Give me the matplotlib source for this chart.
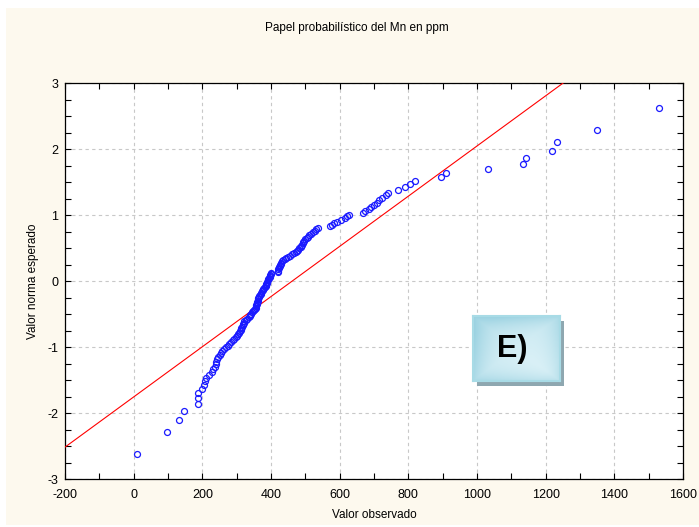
import numpy as np
import matplotlib
matplotlib.use("Agg")
import matplotlib.pyplot as plt
import matplotlib.ticker as ticker
from matplotlib.patches import Rectangle
from statistics import NormalDist

plt.rcParams['font.family'] = ['Liberation Sans', 'DejaVu Sans']
plt.rcParams['axes.unicode_minus'] = False

# Mn concentrations (ppm), sorted
mn_ppm = [
    9, 98, 132, 146, 187, 187, 188, 200, 204, 208,
    212, 220, 228, 232, 236, 239, 241, 243, 247, 250,
    253, 256, 263, 268, 274, 279, 284, 289, 293, 297,
    301, 305, 308, 310, 312, 314, 315, 317, 319, 321,
    322, 326, 331, 335, 338, 340, 342, 344, 347, 350,
    353, 355, 356, 357, 358, 359, 360, 361, 362, 363,
    364, 366, 368, 370, 372, 374, 376, 378, 380, 382,
    384, 385, 386, 388, 389, 390, 392, 394, 396, 397,
    398, 399, 400, 419, 420, 421, 422, 424, 425, 426,
    428, 430, 433, 436, 440, 444, 449, 454, 461, 468,
    473, 477, 480, 483, 486, 488, 490, 492, 494, 496,
    500, 504, 508, 511, 517, 523, 528, 532, 537, 572,
    577, 583, 593, 605, 615, 622, 628, 668, 675, 685,
    690, 700, 708, 716, 722, 735, 742, 771, 790, 805,
    819, 894, 909, 1031, 1135, 1142, 1217, 1232, 1350, 1530,
]

# reference normal line: z = (x - mean) / sd
line_mean = 462.0
line_sd = 263.0

# expected normal values from ranks, (j - 1/3) / (n + 1/3)
n = len(mn_ppm)
nd = NormalDist()
z_exp = [nd.inv_cdf((j - 1.0 / 3) / (n + 1.0 / 3)) for j in range(1, n + 1)]

fig = plt.figure(figsize=(6.99, 5.27), dpi=100)
fig.patch.set_facecolor('white')
# cream panel behind everything
fig.patches.append(Rectangle((6 / 699, 2 / 527), 693 / 699, 517 / 527,
                             transform=fig.transFigure, facecolor='#fdf9ee',
                             edgecolor='none', zorder=-10))

ax = fig.add_axes([65 / 699, 48 / 527, 618 / 699, 396 / 527])
ax.set_facecolor('white')

xl = np.array([-200, 1600])
ax.plot(xl, (xl - line_mean) / line_sd, color='#ff0000', lw=0.8, zorder=3)
ax.plot(mn_ppm, z_exp, 'o', mfc='none', mec='#1a1aff', ms=4.3, mew=0.9, zorder=4)

ax.set_xlim(-200, 1600)
ax.set_ylim(-3, 3)
ax.xaxis.set_major_locator(ticker.MultipleLocator(200))
ax.xaxis.set_minor_locator(ticker.MultipleLocator(100))
ax.yaxis.set_major_locator(ticker.MultipleLocator(1))
ax.yaxis.set_minor_locator(ticker.MultipleLocator(0.25))
ax.tick_params(which='both', direction='in', top=True, right=True,
               length=4, width=0.8, color='black')
ax.tick_params(axis='x', which='major', labelsize=9, pad=7)
ax.tick_params(axis='y', which='major', labelsize=9, pad=5)
ax.grid(True, which='major', color='#c8c8c8', linestyle=(0, (3, 3)), lw=0.8)
ax.set_axisbelow(True)
for s in ax.spines.values():
    s.set_linewidth(0.9)
    s.set_color('black')

ax.set_xlabel('Valor observado', fontsize=8.5, labelpad=6)
ax.set_ylabel('Valor norma esperado', fontsize=8.5, labelpad=6)
fig.text(357 / 699, 1 - 28 / 527, 'Papel probabilístico del Mn en ppm',
         ha='center', va='center', fontsize=8.5)

# "E)" panel tag with drop shadow and soft gradient
bx, by, bw, bh = 473, 316, 87, 65
fig.patches.append(Rectangle(((bx + 4) / 699, 1 - (by + bh + 5) / 527), bw / 699, bh / 527,
                             transform=fig.transFigure, facecolor='#8ea7b0',
                             edgecolor='none', zorder=5))
tag = fig.add_axes([bx / 699, 1 - (by + bh) / 527, bw / 699, bh / 527], zorder=6)
gx, gy = np.meshgrid(np.linspace(-1, 1, 120), np.linspace(-1, 1, 90))
edge = np.maximum(np.abs(gx), np.abs(gy)) ** 3
diag = np.clip(0.5 - 0.35 * (gx + gy), 0, 1) * 0.45
shade = np.clip(0.55 * edge + diag, 0, 1)
c_in = np.array([0.89, 0.96, 0.98])
c_out = np.array([0.60, 0.82, 0.88])
img = c_in[None, None, :] * (1 - shade[..., None]) + c_out[None, None, :] * shade[..., None]
tag.imshow(img, aspect='auto', extent=[0, 1, 0, 1], origin='upper')
tag.set_xticks([])
tag.set_yticks([])
for s in tag.spines.values():
    s.set_color('#a8dbe6')
    s.set_linewidth(1.5)
tag.text(0.45, 0.5, 'E)', ha='center', va='center', fontsize=22,
         fontweight='bold', color='black')

fig.savefig('out.png', dpi=100, facecolor=fig.get_facecolor())
